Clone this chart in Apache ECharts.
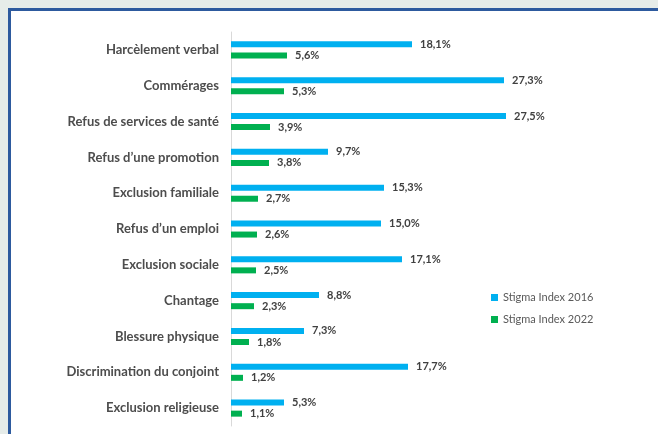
<!DOCTYPE html>
<html>
<head>
    <meta charset="utf-8">
    <title>Stigma Index</title>
    <script src="https://cdn.jsdelivr.net/npm/echarts@6/dist/echarts.min.js"></script>
    <style>
        body { margin: 0; background: #e6ece9; }
        #panel {
            position: absolute; left: 8px; top: 8px; width: 660px; height: 440px;
            background: #fff; border-left: 3px solid #2d5a9e; border-top: 3px solid #2d5a9e;
        }
        #main { position: absolute; left: 0; top: 0; width: 658px; height: 434px; }
    </style>
</head>
<body>
    <div id="panel"></div>
    <div id="main"></div>
    <script type="text/javascript">
        var categories = [
            'Harcèlement verbal', 'Commérages', 'Refus de services de santé',
            'Refus d\u2019une promotion', 'Exclusion familiale', 'Refus d\u2019un emploi',
            'Exclusion sociale', 'Chantage', 'Blessure physique',
            'Discrimination du conjoint', 'Exclusion religieuse'
        ];
        var index2016 = [18.1, 27.3, 27.5, 9.7, 15.3, 15.0, 17.1, 8.8, 7.3, 17.7, 5.3];
        var index2022 = [5.6, 5.3, 3.9, 3.8, 2.7, 2.6, 2.5, 2.3, 1.8, 1.2, 1.1];

        var FONT = 'Lato';

        function pct(p) {
            return p.value.toFixed(1).replace('.', ',') + '%';
        }

        var chart = echarts.init(document.getElementById('main'));

        var labelStyle = {
            show: true,
            position: 'right',
            distance: 8,
            formatter: pct,
            fontFamily: FONT,
            fontSize: 11,
            fontWeight: 'bold',
            color: '#404040'
        };

        chart.setOption({
            animation: false,
            textStyle: { fontFamily: FONT },
            grid: { left: 231, top: 32, width: 400, height: 394 },
            legend: {
                orient: 'vertical',
                left: 486,
                top: 287,
                itemWidth: 7,
                itemHeight: 7,
                itemGap: 11,
                icon: 'rect',
                textStyle: { fontFamily: FONT, fontSize: 11, color: '#595959' },
                data: ['Stigma Index 2016', 'Stigma Index 2022']
            },
            xAxis: {
                type: 'value',
                min: 0,
                max: 40,
                show: false
            },
            yAxis: {
                type: 'category',
                inverse: true,
                data: categories,
                axisLine: { lineStyle: { color: '#d9d9d9' } },
                axisTick: { show: false },
                axisLabel: {
                    margin: 12,
                    fontFamily: FONT,
                    fontSize: 13,
                    fontWeight: 'bold',
                    color: '#4d4d4d'
                }
            },
            series: [{
                name: 'Stigma Index 2016',
                type: 'bar',
                data: index2016,
                barWidth: 6,
                barGap: '85%',
                itemStyle: { color: '#00b0f0' },
                label: labelStyle
            }, {
                name: 'Stigma Index 2022',
                type: 'bar',
                data: index2022,
                barWidth: 6,
                itemStyle: { color: '#00b050' },
                label: labelStyle
            }]
        });
    </script>
</body>
</html>
